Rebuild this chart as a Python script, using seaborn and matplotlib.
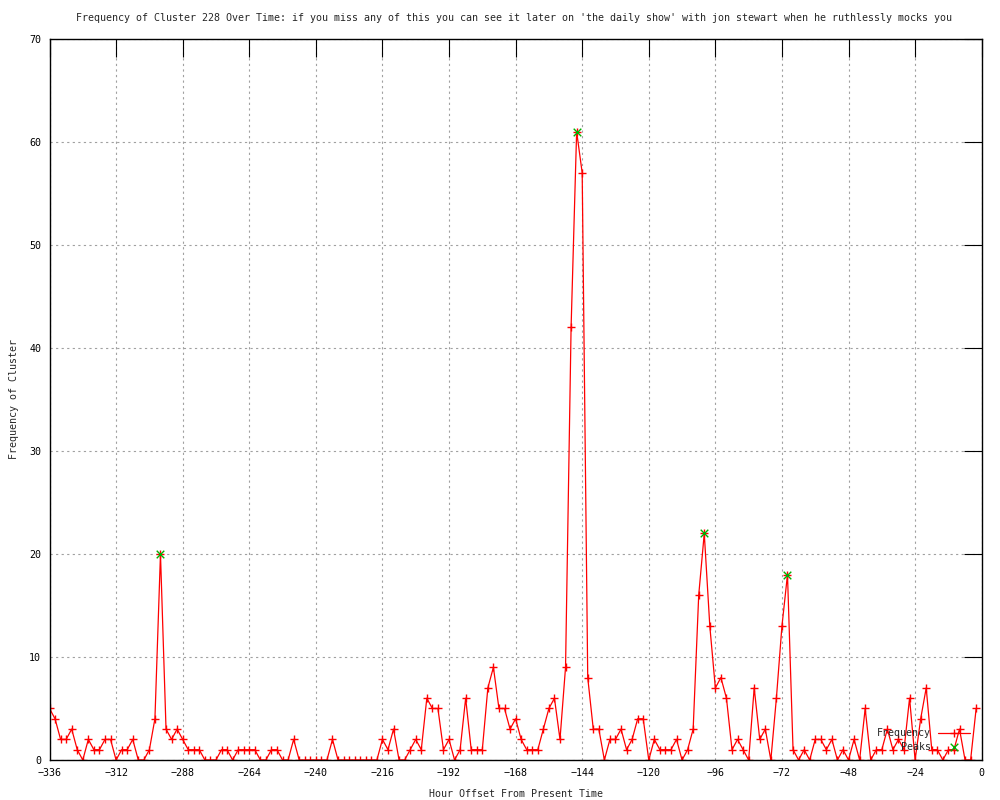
import numpy as np
import pandas as pd
import matplotlib
matplotlib.use("Agg")
import matplotlib.pyplot as plt
import seaborn as sns

# hourly bins, 2 hours apart, from -336 up to -2
hours = list(range(-336, 0, 2))
freq = [5, 4, 2, 2, 3, 1, 0, 2, 1, 1, 2, 2, 0, 1, 1, 2, 0, 0, 1, 4,
        20, 3, 2, 3, 2, 1, 1, 1, 0, 0, 0, 1, 1, 0, 1, 1, 1, 1, 0, 0,
        1, 1, 0, 0, 2, 0, 0, 0, 0, 0, 0, 2, 0, 0, 0, 0, 0, 0, 0, 0,
        2, 1, 3, 0, 0, 1, 2, 1, 6, 5, 5, 1, 2, 0, 1, 6, 1, 1, 1, 7,
        9, 5, 5, 3, 4, 2, 1, 1, 1, 3, 5, 6, 2, 9, 42, 61, 57, 8, 3, 3,
        0, 2, 2, 3, 1, 2, 4, 4, 0, 2, 1, 1, 1, 2, 0, 1, 3, 16, 22, 13,
        7, 8, 6, 1, 2, 1, 0, 7, 2, 3, 0, 6, 13, 18, 1, 0, 1, 0, 2, 2,
        1, 2, 0, 1, 0, 2, 0, 5, 0, 1, 1, 3, 1, 2, 1, 6, 0, 4, 7, 1,
        1, 0, 1, 1, 3, 0, 0, 5]
assert len(hours) == len(freq)

peak_hours = [-296, -146, -100, -70]
peak_freq = [20, 61, 22, 18]

x_ticks = list(range(-336, 1, 24))
y_ticks = list(range(0, 71, 10))

title = ("Frequency of Cluster 228 Over Time: if you miss any of this you can see it "
         "later on 'the daily show' with jon stewart when he ruthlessly mocks you")

sns.set_style("white")
plt.rcParams["font.family"] = ["DejaVu Sans Mono"]
fs = 7.2

df = pd.DataFrame({"hour": hours, "freq": freq})
peaks = pd.DataFrame({"hour": peak_hours, "freq": peak_freq})

fig = plt.figure(figsize=(10, 8), dpi=100)
ax = fig.add_axes([0.0495, 0.05, 0.9322, 0.9013])

sns.lineplot(data=df, x="hour", y="freq", ax=ax, color="red", linewidth=0.9,
             marker="+", markersize=6, markeredgewidth=1.0,
             markeredgecolor="red", label="Frequency")
sns.scatterplot(data=peaks, x="hour", y="freq", ax=ax, marker="x",
                color="#00b000", s=30, linewidth=1.0, label="Peaks", zorder=5)

ax.set_xlim(-336, 0)
ax.set_ylim(0, 70)
ax.set_xticks(x_ticks)
ax.set_yticks(y_ticks)
ax.tick_params(direction="in", length=13, width=0.8, top=True, right=True,
               labelsize=fs, colors="black", pad=6)
ax.grid(True, color="#a0a0a0", linestyle=(0, (2, 3)), linewidth=0.8)
for sp in ax.spines.values():
    sp.set_color("black")
    sp.set_linewidth(1.0)

ax.set_xlabel("Hour Offset From Present Time", fontsize=fs)
ax.set_ylabel("Frequency of Cluster", fontsize=fs)
ax.xaxis.set_label_coords(0.5, -0.040)
ax.yaxis.set_label_coords(-0.033, 0.5)
fig.text(0.514, 0.977, title, ha="center", va="center", fontsize=fs)

ax.legend(loc="lower right", bbox_to_anchor=(0.970, 0.060),
          bbox_transform=fig.transFigure, frameon=False, markerfirst=False,
          numpoints=1, handlelength=3.2, handletextpad=0.7, labelspacing=0.35,
          borderpad=0, borderaxespad=0, fontsize=fs)

fig.savefig("out.png", dpi=100)
